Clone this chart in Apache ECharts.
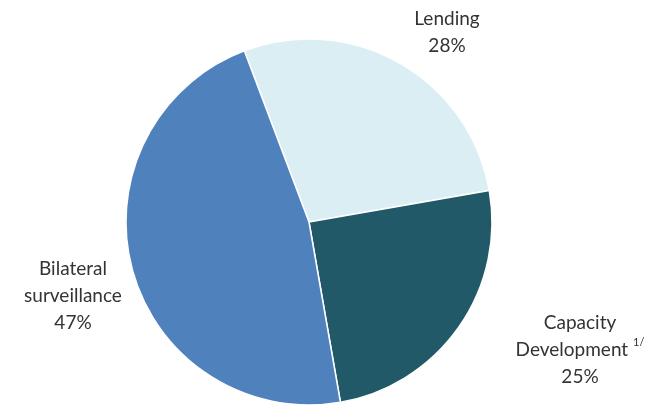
<!DOCTYPE html>
<html><head><meta charset="utf-8">
<script src="https://cdn.jsdelivr.net/npm/echarts@6/dist/echarts.min.js"></script>
<style>html,body{margin:0;padding:0;background:#fff}#c{width:662px;height:406px}</style>
</head><body><div id="c"></div>
<script>
const categories = ['Lending', 'Capacity Development', 'Bilateral surveillance'];
const values = [28, 25, 47];
const colors = ['#dbeef4', '#215968', '#4f81bd'];
const labelPos = [[447, 32], [580, 350], [73, 296]];

const chart = echarts.init(document.getElementById('c'));
chart.setOption({
  animation: false,
  series: [{
    type: 'pie',
    center: [309, 222],
    radius: 183,
    startAngle: 110.7,
    clockwise: true,
    data: categories.map((c, i) => ({name: c, value: values[i], itemStyle: {color: colors[i]}})),
    itemStyle: {borderColor: '#fff', borderWidth: 1.5},
    labelLine: {show: false},
    label: {
      show: true,
      position: 'outside',
      overflow: 'none',
      width: 200,
      fontFamily: 'Lato',
      fontSize: 19,
      color: '#333',
      lineHeight: 27,
      align: 'center',
      formatter: p => {
        if (p.dataIndex === 0) return 'Lending\n' + p.value + '%';
        if (p.dataIndex === 1) return 'Capacity\nDevelopment {sup|1/}\n' + p.value + '%';
        return 'Bilateral\nsurveillance\n' + p.value + '%';
      },
      rich: {sup: {fontSize: 11, verticalAlign: 'top', lineHeight: 27, padding: [0, 0, 8, 0], color: '#333', fontFamily: 'Lato'}}
    },
    labelLayout: p => ({x: labelPos[p.dataIndex][0], y: labelPos[p.dataIndex][1], align: 'center', verticalAlign: 'middle'})
  }]
});
</script></body></html>
